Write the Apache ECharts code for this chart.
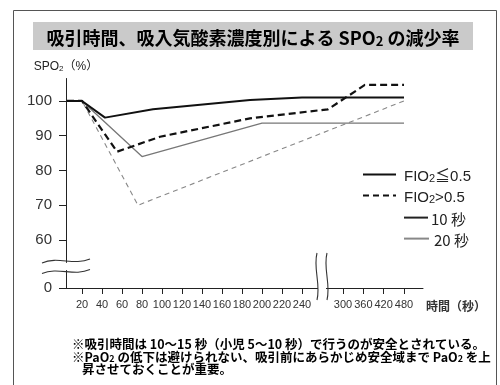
<!DOCTYPE html>
<html><head><meta charset="utf-8">
<script src="https://cdn.jsdelivr.net/npm/echarts@6/dist/echarts.min.js"></script>
<style>html,body{margin:0;padding:0;background:#fff}#c{width:500px;height:385px}</style>
</head><body><div id="c"></div>
<script>
// ---- data ----
const xTickTimes = [20,40,60,80,100,120,140,160,180,200,220,240,300,360,420,480]; // seconds
const yTickValues = [0,60,70,80,90,100];                                         // SpO2 %
// 10 s suction, FIO2 <= 0.5 (black solid)
const t10Low  = [5,20,43,91,188,240,480];
const v10Low  = [100,100,95.2,97.6,100.3,101,101];
// 10 s suction, FIO2 > 0.5 (black dashed)
const t10High = [5,20,55,98,188,259,286,480];
const v10High = [100,100,85.4,89.7,95,97.6,104.6,104.6];
// 20 s suction, FIO2 <= 0.5 (grey solid)
const t20Low  = [5,20,80,200,480];
const v20Low  = [100,100,84,93.6,93.6];
// 20 s suction, FIO2 > 0.5 (grey dashed)
const t20High = [5,20,76,480];
const v20High = [100,100,70,100];
const legendNames = ['FIO2≦0.5','FIO2>0.5','10 秒','20 秒'];

// broken time axis: 20 s per unit up to 240 s, 60 s per unit after the break
function tToU(t){
  if (t <= 240) return t/20;
  if (t < 300) return 12 + (t-240)/30*2.05;
  return 14.05 + (t-300)/59;
}
const xTickU = xTickTimes.map(tToU);
function xLabel(u){
  for (let i=0;i<xTickU.length;i++) if (Math.abs(xTickU[i]-u)<1e-6) return String(xTickTimes[i]);
  return '';
}
const pts = (ts, vs) => ts.map((t,i)=>[tToU(t), vs[i]]);

const FF = '"Liberation Sans","Noto Sans CJK JP",sans-serif';
const JF = '"Noto Sans CJK JP","Liberation Sans",sans-serif';
const subRich = (fs, fw, col, ff) => ({
  a:{fontSize:fs, fontWeight:fw, color:col, fontFamily:ff, verticalAlign:'bottom', lineHeight:Math.round(fs*1.25)},
  s:{fontSize:Math.round(fs*0.7), fontWeight:fw, color:col, fontFamily:ff, verticalAlign:'bottom', lineHeight:Math.round(fs*0.8)}
});
function legendFmt(name){
  if (name.indexOf('FIO2')===0) return '{a|FIO}{s|2}{a|'+name.slice(4)+'}';
  return '{a|'+name+'}';
}

const chart = echarts.init(document.getElementById('c'), null, {renderer:'canvas'});
const lineBase = {type:'line', symbol:'none', silent:true, animation:false};
const legBase = {padding:0, itemHeight:14, formatter:legendFmt, itemStyle:{opacity:0}, selectedMode:false};
const option = {
  animation:false,
  backgroundColor:'#fff',
  grid:{left:66, right:77, top:78, bottom:97, outerBoundsMode:'none', containLabel:false},
  xAxis:{
    type:'value', min:0.2, max:18.05,
    axisLine:{show:true, onZero:false, lineStyle:{color:'#222', width:1}},
    axisTick:{show:true, customValues:xTickU, length:6, lineStyle:{color:'#222'}},
    axisLabel:{customValues:xTickU, formatter:xLabel, fontSize:11, color:'#333', fontFamily:FF, margin:11},
    splitLine:{show:false},
    name:'時間（秒）', nameLocation:'end', nameGap:3,
    nameTextStyle:{fontSize:12, fontWeight:'bold', color:'#333', fontFamily:JF, align:'left', verticalAlign:'top', padding:[12,0,0,0]}
  },
  yAxis:{
    type:'value', min:0, max:106.6,
    breaks:[{start:5, end:53.7, gap:2.5}],
    breakArea:{show:false},
    axisLine:{show:true, lineStyle:{color:'#222', width:1}},
    axisTick:{show:true, customValues:yTickValues, length:7, lineStyle:{color:'#222'}},
    axisLabel:{customValues:yTickValues, fontSize:15, color:'#333', fontFamily:FF, margin:14},
    splitLine:{show:false},
    name:'{a|SPO}{s|2}{a|（%）}', nameLocation:'end', nameGap:5,
    nameTextStyle:{align:'center', rich:subRich(12,'normal','#222',FF)}
  },
  legend:[
    Object.assign({}, legBase, {data:[legendNames[0]], left:362, top:169, itemWidth:33, textStyle:{padding:[0,0,0,3], rich:subRich(15,'normal','#222',FF)}}),
    Object.assign({}, legBase, {data:[legendNames[1]], left:362, top:190, itemWidth:33, textStyle:{padding:[0,0,0,3], rich:subRich(15,'normal','#222',FF)}}),
    Object.assign({}, legBase, {data:[legendNames[2]], left:403, top:212, itemWidth:24, textStyle:{padding:[0,0,0,-2], rich:subRich(15,'normal','#222',JF)}}),
    Object.assign({}, legBase, {data:[legendNames[3]], left:403, top:233, itemWidth:25, textStyle:{padding:[0,0,0,0], rich:subRich(15,'normal','#222',JF)}})
  ],
  series:[
    Object.assign({}, lineBase, {name:'10秒 FIO2≦0.5', data:pts(t10Low,v10Low), lineStyle:{color:'#111', width:2}, z:5}),
    Object.assign({}, lineBase, {name:'10秒 FIO2>0.5', data:pts(t10High,v10High), lineStyle:{color:'#111', width:2.2, type:[7,4]}, z:5}),
    Object.assign({}, lineBase, {name:'20秒 FIO2≦0.5', data:pts(t20Low,v20Low), lineStyle:{color:'#777', width:1.3}, z:4}),
    Object.assign({}, lineBase, {name:'20秒 FIO2>0.5', data:pts(t20High,v20High), lineStyle:{color:'#888', width:1.1, type:[5,4]}, z:4}),
    Object.assign({}, lineBase, {name:legendNames[0], data:[], itemStyle:{color:'#111', opacity:0}, lineStyle:{color:'#111', width:2}}),
    Object.assign({}, lineBase, {name:legendNames[1], data:[], itemStyle:{color:'#111', opacity:0}, lineStyle:{color:'#111', width:2, type:[6,4]}}),
    Object.assign({}, lineBase, {name:legendNames[2], data:[], itemStyle:{color:'#222', opacity:0}, lineStyle:{color:'#222', width:2}}),
    Object.assign({}, lineBase, {name:legendNames[3], data:[], itemStyle:{color:'#888', opacity:0}, lineStyle:{color:'#888', width:1.5}})
  ]
};
chart.setOption(option);

// decorations: frame, title band, axis break marks, notes
const yb1 = chart.convertToPixel({yAxisIndex:0}, 53.7);
const yb2 = chart.convertToPixel({yAxisIndex:0}, 5);
const xAxisY = chart.convertToPixel({yAxisIndex:0}, 0);
const yAxisX = chart.convertToPixel({xAxisIndex:0}, 0.2);
const xb1 = chart.convertToPixel({xAxisIndex:0}, 12.75);
const xb2 = chart.convertToPixel({xAxisIndex:0}, 13.25);
const yTop = yb1 - 1, yBot = yb2 + 1;
const waveStyle = {fill:null, stroke:'#333', lineWidth:1.1};
function hWave(x0, y){
  return {type:'bezierCurve', shape:{x1:x0, y1:y+2, cpx1:x0+16, cpy1:y-5, cpx2:x0+32, cpy2:y+5, x2:x0+48, y2:y-2}, style:waveStyle, silent:true, z:51};
}
function vWave(x, y0, y1){
  const h = y1-y0;
  return {type:'bezierCurve', shape:{x1:x, y1:y0, cpx1:x-4, cpy1:y0+h/3, cpx2:x+4, cpy2:y0+2*h/3, x2:x, y2:y1}, style:waveStyle, silent:true, z:51};
}
const noteRich = subRich(12.5,'bold','#333',JF);
const titleRich = subRich(18,'bold','#222',JF);
chart.setOption({graphic:[
  {type:'rect', shape:{x:13.5, y:10.5, width:483, height:400}, style:{fill:null, stroke:'#555', lineWidth:1}, silent:true, z:0},
  {type:'rect', shape:{x:33, y:22, width:440, height:28}, style:{fill:'#cacaca'}, silent:true},
  {type:'text', x:253, y:36, style:{text:'{a|吸引時間、吸入気酸素濃度別による SPO}{s|2}{a| の減少率}', rich:titleRich, align:'center', verticalAlign:'middle'}, silent:true},
  // y-axis break
  {type:'rect', shape:{x:yAxisX-4, y:yTop+2, width:8, height:yBot-yTop-4}, style:{fill:'#fff'}, silent:true, z:50},
  hWave(42, yTop), hWave(42, yBot),
  // x-axis break
  {type:'rect', shape:{x:xb1+1, y:xAxisY-4, width:xb2-xb1-2, height:8}, style:{fill:'#fff'}, silent:true, z:50},
  vWave(xb1, 253, 300), vWave(xb2, 253, 300),
  // notes
  {type:'text', x:72, y:343, style:{text:'{a|※吸引時間は 10～15 秒（小児 5～10 秒）で行うのが安全とされている。}', rich:noteRich, verticalAlign:'middle'}, silent:true},
  {type:'text', x:72, y:355.5, style:{text:'{a|※PaO}{s|2}{a| の低下は避けられない、吸引前にあらかじめ安全域まで PaO}{s|2}{a| を上}', rich:noteRich, verticalAlign:'middle'}, silent:true},
  {type:'text', x:82, y:368, style:{text:'{a|昇させておくことが重要。}', rich:noteRich, verticalAlign:'middle'}, silent:true}
]});
</script></body></html>
